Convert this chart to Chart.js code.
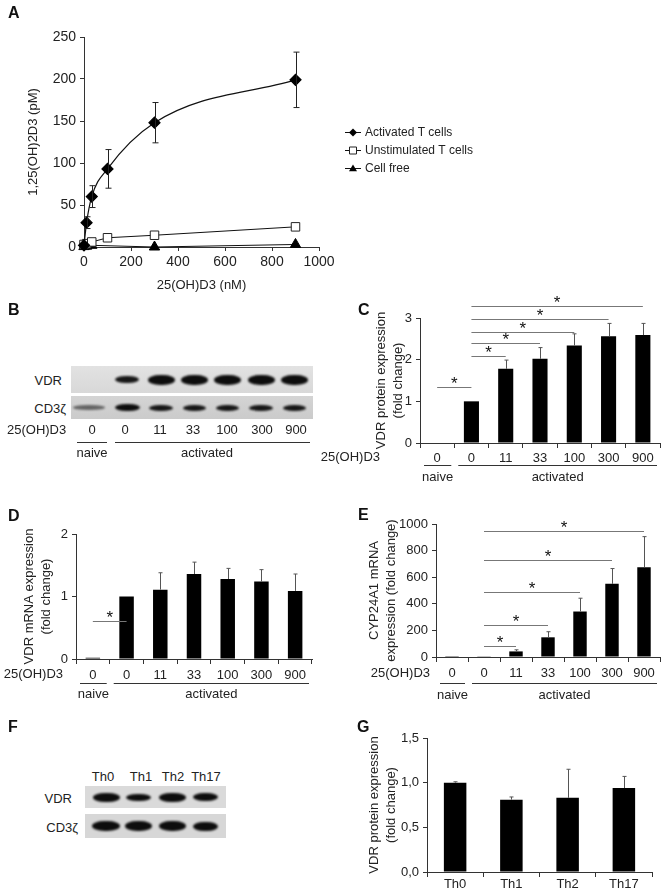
<!DOCTYPE html>
<html>
<head>
<style>
  body { margin: 0; width: 670px; height: 894px; position: relative; background: #fff; overflow: hidden;
         font-family: "Liberation Sans", Arial, sans-serif; color: #222; }
  canvas { position: absolute; }
  .t { position: absolute; font-size: 13px; line-height: 13px; white-space: nowrap; }
  .letter { position: absolute; font-size: 16px; line-height: 16px; font-weight: bold; color: #111; }
  .strip { position: absolute; overflow: hidden; }
  .band { position: absolute; background: #0d0d0d; border-radius: 45% / 50%; filter: blur(0.8px); }
  .rule { position: absolute; height: 1px; background: #333; }
</style>
</head>
<body>
<script src="https://cdn.jsdelivr.net/npm/chart.js@4.4.0/dist/chart.umd.min.js"></script>
<canvas id="chartA" width="520" height="280" style="left:0;top:20px"></canvas>
<canvas id="chartC" width="350" height="200" style="left:320px;top:295px"></canvas>
<canvas id="chartD" width="320" height="205" style="left:0;top:495px"></canvas>
<canvas id="chartE" width="350" height="205" style="left:320px;top:495px"></canvas>
<canvas id="chartG" width="350" height="179" style="left:320px;top:715px"></canvas>
<script>
// ---- data ----
const doseX = [0, 11, 33, 100, 300, 900];
const activated = [2, 29, 60, 93, 148, 199];
const activatedErr = [0, 7, 13, 23, 24, 33];
const unstimulated = [3, 4, 6, 11, 14, 24];
const cellFreeX = [0, 11, 33, 300, 900];
const cellFree = [0.5, 1, 2, 0, 3];

const lanes = ['0', '0', '11', '33', '100', '300', '900'];
const groupNames = ['naive', 'activated'];
const groupSpans = [[0, 0], [1, 6]];

const vdrProtein = [0, 1, 1.78, 2.02, 2.34, 2.56, 2.59];
const vdrProteinErr = [0, 0, 0.21, 0.27, 0.28, 0.31, 0.28];
const vdrMrna = [0.02, 1, 1.11, 1.36, 1.28, 1.24, 1.09];
const vdrMrnaErr = [0, 0, 0.27, 0.19, 0.17, 0.19, 0.27];
const cyp24a1 = [1, 2, 42, 148, 342, 550, 675];
const cyp24a1Err = [0, 0, 12, 42, 100, 115, 230];

const thSubsets = ['Th0', 'Th1', 'Th2', 'Th17'];
const thVdr = [1.0, 0.81, 0.83, 0.94];
const thVdrErr = [0.01, 0.03, 0.32, 0.13];

// significance: [from lane, to lane, bar height]
const sigC = [[0, 1, 1.34], [1, 2, 2.09], [1, 3, 2.4], [1, 4, 2.67], [1, 5, 2.98], [1, 6, 3.29]];
const sigD = [[0, 1, 0.61]];
const sigE = [[1, 2, 83], [1, 3, 244], [1, 4, 486], [1, 5, 730], [1, 6, 950]];

// blots (band width, height, darkness per lane)
const blotBLanes = [89, 127, 161, 194, 227, 261, 294];
const blotBVdr = [[0, 0, 0], [24, 7, 0.95], [27, 10, 1], [27, 10, 1], [27, 10, 1], [27, 10, 1], [27, 10, 1]];
const blotBCd3 = [[32, 5, 0.55], [25, 7, 1], [24, 6, 0.95], [23, 6, 0.95], [23, 6, 0.95], [24, 6, 0.95], [23, 6, 0.95]];
const blotFLanes = [106, 138, 172, 205];
const blotFVdr = [[27, 9, 1], [25, 7, 1], [27, 9, 1], [25, 8, 1]];
const blotFCd3 = [[28, 10, 1], [27, 10, 1], [27, 10, 1], [25, 9, 1]];

const FONT = '"Liberation Sans", Arial, sans-serif';
Chart.defaults.font.family = FONT;
Chart.defaults.font.size = 13;
Chart.defaults.color = '#222';
Chart.defaults.animation = false;
Chart.defaults.responsive = false;
Chart.defaults.plugins.legend.display = false;
Chart.defaults.plugins.tooltip.enabled = false;

// ---- plugins ----
const errorBars = {
  id: 'errorBars',
  afterDatasetsDraw(chart) {
    const ctx = chart.ctx, ys = chart.scales.y;
    chart.data.datasets.forEach((ds, i) => {
      if (!ds.errors) return;
      const meta = chart.getDatasetMeta(i);
      meta.data.forEach((el, j) => {
        const e = ds.errors[j];
        if (!e) return;
        const v = typeof ds.data[j] === 'object' ? ds.data[j].y : ds.data[j];
        const top = ys.getPixelForValue(v + e);
        const bot = ds.twoSided ? ys.getPixelForValue(v - e) : el.y;
        const x = Math.round(el.x) + 0.5, cap = ds.twoSided ? 3 : 2;
        ctx.save();
        ctx.strokeStyle = ds.twoSided ? '#222' : '#555';
        ctx.lineWidth = 1;
        ctx.beginPath();
        ctx.moveTo(x, top); ctx.lineTo(x, bot);
        ctx.moveTo(x - cap, top); ctx.lineTo(x + cap, top);
        if (ds.twoSided) { ctx.moveTo(x - cap, bot); ctx.lineTo(x + cap, bot); }
        ctx.stroke();
        ctx.restore();
      });
    });
  }
};

const groupLabels = {
  id: 'groupLabels',
  afterDraw(chart, args, opts) {
    if (!opts.row) return;
    const ctx = chart.ctx, x = chart.scales.x, base = chart.chartArea.bottom;
    const half = (x.getPixelForValue(1) - x.getPixelForValue(0)) / 2;
    ctx.save();
    ctx.font = '13px ' + FONT;
    ctx.fillStyle = '#222';
    ctx.textBaseline = 'middle';
    ctx.textAlign = 'right';
    ctx.fillText(opts.row, opts.rowRight, base + opts.tickY);
    ctx.textAlign = 'center';
    ctx.strokeStyle = '#333';
    ctx.lineWidth = 1;
    groupSpans.forEach((g, i) => {
      const a = x.getPixelForValue(g[0]) - half + 4;
      const b = x.getPixelForValue(g[1]) + half - 3;
      const ly = Math.round(base + opts.lineY) + 0.5;
      ctx.beginPath(); ctx.moveTo(a, ly); ctx.lineTo(b, ly); ctx.stroke();
      ctx.fillText(groupNames[i], (a + b) / 2, base + opts.textY);
    });
    ctx.restore();
  }
};

const sigBars = {
  id: 'sigBars',
  afterDraw(chart, args, opts) {
    if (!opts.pairs) return;
    const ctx = chart.ctx, x = chart.scales.x, y = chart.scales.y;
    ctx.save();
    opts.pairs.forEach(p => {
      const a = x.getPixelForValue(p[0]), b = x.getPixelForValue(p[1]);
      const yy = Math.round(y.getPixelForValue(p[2])) + 0.5;
      ctx.strokeStyle = '#777';
      ctx.lineWidth = 1;
      ctx.beginPath(); ctx.moveTo(a, yy); ctx.lineTo(b, yy); ctx.stroke();
      ctx.fillStyle = '#111';
      ctx.font = '17px ' + FONT;
      ctx.textAlign = 'center';
      ctx.textBaseline = 'alphabetic';
      ctx.fillText('*', (a + b) / 2, yy + 1);
    });
    ctx.restore();
  }
};

function marker(ctx, style, x, y, r) {
  ctx.beginPath();
  if (style === 'rectRot') {
    ctx.moveTo(x, y - r); ctx.lineTo(x + r, y); ctx.lineTo(x, y + r); ctx.lineTo(x - r, y); ctx.closePath();
    ctx.fillStyle = '#000'; ctx.fill();
  } else if (style === 'rect') {
    ctx.rect(x - r + 0.5, y - r + 0.5, 2 * r - 1, 2 * r - 1);
    ctx.fillStyle = '#fff'; ctx.fill(); ctx.strokeStyle = '#222'; ctx.stroke();
  } else {
    ctx.moveTo(x, y - r); ctx.lineTo(x + r, y + r * 0.7); ctx.lineTo(x - r, y + r * 0.7); ctx.closePath();
    ctx.fillStyle = '#000'; ctx.fill();
  }
}

const sideLegend = {
  id: 'sideLegend',
  afterDraw(chart, args, opts) {
    const ctx = chart.ctx;
    ctx.save();
    chart.data.datasets.forEach((ds, i) => {
      const y = opts.y + i * opts.step;
      ctx.strokeStyle = '#111'; ctx.lineWidth = 1;
      ctx.beginPath(); ctx.moveTo(opts.x, y + 0.5); ctx.lineTo(opts.x + 16, y + 0.5); ctx.stroke();
      marker(ctx, ds.pointStyle, opts.x + 8, y + 0.5, 4);
      ctx.fillStyle = '#222';
      ctx.font = '12px ' + FONT;
      ctx.textBaseline = 'middle';
      ctx.textAlign = 'left';
      ctx.fillText(ds.label, opts.x + 20, y + 1);
    });
    ctx.restore();
  }
};

function yAxis(min, max, step, width, title, titlePad, fmt, size) {
  return {
    min: min, max: max,
    border: { color: '#333', width: 1 },
    grid: { drawOnChartArea: false, color: '#333', tickLength: 4 },
    ticks: { stepSize: step, padding: 4, color: '#222', font: { size: size || 13 }, callback: fmt || (v => v) },
    title: { display: true, text: title, color: '#222', font: { size: 13, lineHeight: 1.3 }, padding: { top: titlePad, bottom: 0 } },
    afterFit: s => { s.width = width; }
  };
}

function xCat(height, pad) {
  return {
    border: { color: '#333', width: 1 },
    grid: { drawOnChartArea: false, color: '#333', tickLength: 5, offset: true },
    ticks: { padding: pad, color: '#222', autoSkip: false, maxRotation: 0 },
    afterFit: s => { s.height = height; }
  };
}

// ---- panel A ----
new Chart(document.getElementById('chartA'), {
  type: 'scatter',
  data: {
    datasets: [
      { label: 'Activated T cells', data: doseX.map((x, i) => ({ x: x, y: activated[i] })), errors: activatedErr, twoSided: true,
        showLine: true, cubicInterpolationMode: 'monotone', borderColor: '#111', borderWidth: 1.2,
        pointStyle: 'rectRot', pointRadius: 5.5, pointBackgroundColor: '#000', pointBorderColor: '#000', clip: false },
      { label: 'Unstimulated T cells', data: doseX.map((x, i) => ({ x: x, y: unstimulated[i] })),
        showLine: true, borderColor: '#111', borderWidth: 1,
        pointStyle: 'rect', pointRadius: 6, pointBackgroundColor: '#fff', pointBorderColor: '#222', pointBorderWidth: 1, clip: false },
      { label: 'Cell free', data: cellFreeX.map((x, i) => ({ x: x, y: cellFree[i] })),
        showLine: true, borderColor: '#111', borderWidth: 1,
        pointStyle: 'triangle', pointRadius: 6, pointBackgroundColor: '#000', pointBorderColor: '#000', clip: false }
    ]
  },
  options: {
    layout: { padding: { top: 17, right: 201, left: 0, bottom: 0 } },
    scales: {
      x: {
        type: 'linear', min: 0, max: 1000,
        border: { color: '#333', width: 1 },
        grid: { drawOnChartArea: false, color: '#333', tickLength: 4 },
        ticks: { stepSize: 200, padding: 3, color: '#222', font: { size: 14 }, callback: v => String(v) },
        title: { display: true, text: '25(OH)D3 (nM)', color: '#222', font: { size: 13 }, padding: { top: 0, bottom: 7 } },
        afterFit: s => { s.height = 53; }
      },
      y: yAxis(0, 250, 50, 84, '1,25(OH)2D3 (pM)', 25, null, 14)
    },
    plugins: { sideLegend: { x: 345, y: 112, step: 18 } }
  },
  plugins: [errorBars, sideLegend]
});

// ---- panel C ----
new Chart(document.getElementById('chartC'), {
  type: 'bar',
  data: { labels: lanes, datasets: [{ data: vdrProtein, errors: vdrProteinErr, backgroundColor: '#000',
          categoryPercentage: 1, barPercentage: 0.44 }] },
  options: {
    layout: { padding: { top: 23, right: 10, left: 0, bottom: 0 } },
    scales: { x: xCat(52, 3), y: yAxis(0, 3, 1, 100, ['VDR protein expression', '(fold change)'], 53) },
    plugins: {
      groupLabels: { row: '25(OH)D3', rowRight: 60, tickY: 14, lineY: 22, textY: 34 },
      sigBars: { pairs: sigC }
    }
  },
  plugins: [errorBars, groupLabels, sigBars]
});

// ---- panel D ----
new Chart(document.getElementById('chartD'), {
  type: 'bar',
  data: { labels: lanes, datasets: [{ data: vdrMrna, errors: vdrMrnaErr, backgroundColor: '#000',
          categoryPercentage: 1, barPercentage: 0.43 }] },
  options: {
    layout: { padding: { top: 39, right: 8, left: 0, bottom: 0 } },
    scales: { x: xCat(41, 4), y: yAxis(0, 2, 1, 76, ['VDR mRNA expression', '(fold change)'], 21) },
    plugins: {
      groupLabels: { row: '25(OH)D3', rowRight: 63, tickY: 15, lineY: 24, textY: 35 },
      sigBars: { pairs: sigD }
    }
  },
  plugins: [errorBars, groupLabels, sigBars]
});

// ---- panel E ----
new Chart(document.getElementById('chartE'), {
  type: 'bar',
  data: { labels: lanes, datasets: [{ data: cyp24a1, errors: cyp24a1Err, backgroundColor: '#000',
          categoryPercentage: 1, barPercentage: 0.42 }] },
  options: {
    layout: { padding: { top: 29, right: 10, left: 0, bottom: 0 } },
    scales: { x: xCat(43, 4), y: yAxis(0, 1000, 200, 116, ['CYP24A1 mRNA', 'expression (fold change)'], 46) },
    plugins: {
      groupLabels: { row: '25(OH)D3', rowRight: 110, tickY: 16, lineY: 26, textY: 38 },
      sigBars: { pairs: sigE }
    }
  },
  plugins: [errorBars, groupLabels, sigBars]
});

// ---- panel G ----
new Chart(document.getElementById('chartG'), {
  type: 'bar',
  data: { labels: thSubsets, datasets: [{ data: thVdr, errors: thVdrErr, backgroundColor: '#000',
          categoryPercentage: 1, barPercentage: 0.4 }] },
  options: {
    layout: { padding: { top: 23, right: 18, left: 0, bottom: 0 } },
    scales: {
      x: xCat(22, 0),
      y: yAxis(0, 1.5, 0.5, 107, ['VDR protein expression', '(fold change)'], 46, v => v.toFixed(1).replace('.', ','))
    }
  },
  plugins: [errorBars]
});

// ---- text, blots ----
function txt(s, x, y, cls, align) {
  const d = document.createElement('div');
  d.className = cls || 't';
  d.textContent = s;
  d.style.left = x + 'px';
  d.style.top = y + 'px';
  const tx = align === 'right' ? '-100%' : align === 'left' ? '0' : '-50%';
  d.style.transform = 'translate(' + tx + ',-50%)';
  document.body.appendChild(d);
}
function rule(x1, x2, y) {
  const d = document.createElement('div');
  d.className = 'rule';
  d.style.left = x1 + 'px'; d.style.top = y + 'px'; d.style.width = (x2 - x1) + 'px';
  document.body.appendChild(d);
}
function strip(x1, x2, y1, y2, bg, lanesX, bands) {
  const s = document.createElement('div');
  s.className = 'strip';
  s.style.left = x1 + 'px'; s.style.top = y1 + 'px';
  s.style.width = (x2 - x1) + 'px'; s.style.height = (y2 - y1) + 'px';
  s.style.background = bg;
  document.body.appendChild(s);
  bands.forEach((b, i) => {
    if (!b[0]) return;
    const d = document.createElement('div');
    d.className = 'band';
    d.style.left = (lanesX[i] - x1 - b[0] / 2) + 'px';
    d.style.top = ((y2 - y1) / 2 - b[1] / 2) + 'px';
    d.style.width = b[0] + 'px';
    d.style.height = b[1] + 'px';
    d.style.opacity = b[2];
    s.appendChild(d);
  });
}

['A', 'B', 'C', 'D', 'E', 'F', 'G'].forEach((l, i) => {
  const pos = [[8, 13], [8, 310], [358, 310], [8, 516], [358, 515], [8, 727], [357, 727]][i];
  txt(l, pos[0], pos[1], 'letter', 'left');
});

// B
strip(71, 313, 366, 393, 'linear-gradient(#e2e2e2, #d8d8d8)', blotBLanes, blotBVdr);
strip(71, 313, 396, 419, 'linear-gradient(#d4d4d4, #cbcbcb)', blotBLanes, blotBCd3);
txt('VDR', 62, 380, 't', 'right');
txt('CD3\u03b6', 66, 408, 't', 'right');
txt('25(OH)D3', 7, 429, 't', 'left');
lanes.forEach((l, i) => txt(l, [92, 125, 160, 193, 227, 262, 296][i], 429));
rule(77, 107, 442);
rule(115, 310, 442);
txt('naive', 92, 452);
txt('activated', 207, 452);

// F
strip(85, 226, 786, 808, '#dadada', blotFLanes, blotFVdr);
strip(85, 226, 814, 838, '#d7d7d7', blotFLanes, blotFCd3);
thSubsets.forEach((l, i) => txt(l, [103, 141, 173, 206][i], 776));
txt('VDR', 72, 798, 't', 'right');
txt('CD3\u03b6', 78, 827, 't', 'right');
</script>
</body>
</html>
